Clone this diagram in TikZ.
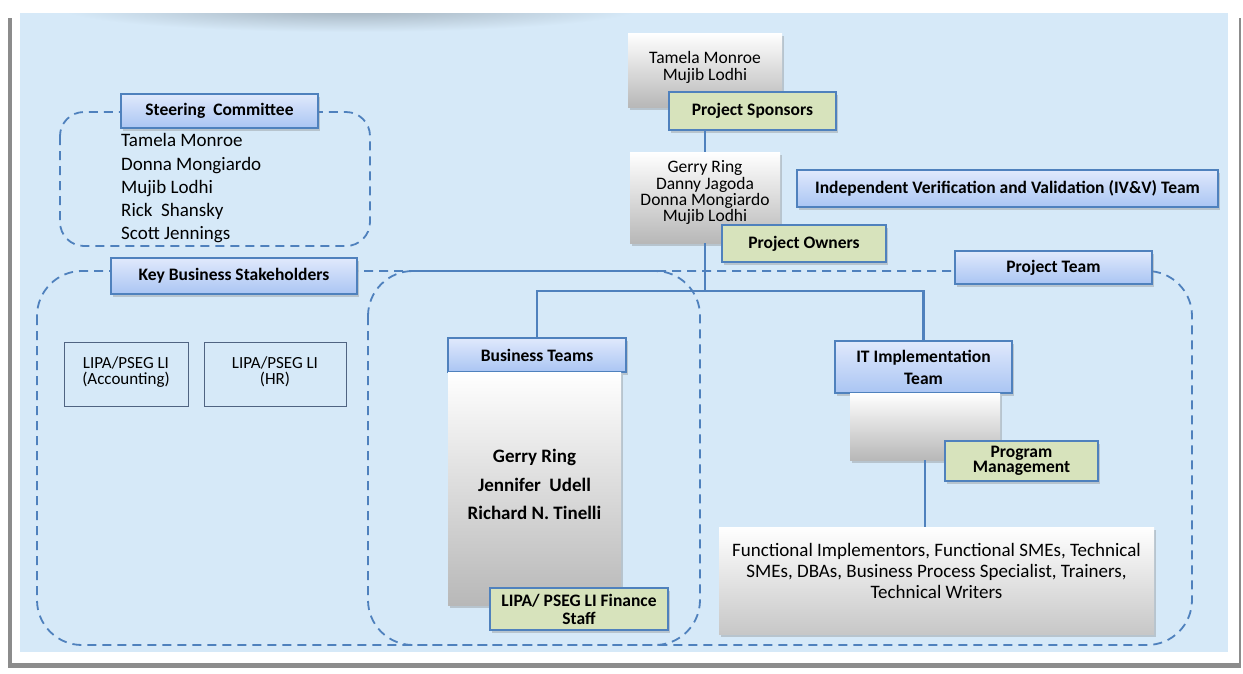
\documentclass[tikz,border=0pt]{standalone}
\usepackage{fontspec}
\setmainfont{Carlito}
\usetikzlibrary{shadows}
\definecolor{bgblue}{RGB}{214,233,248}
\definecolor{lineblue}{RGB}{79,129,189}
\definecolor{hdrtop}{RGB}{224,233,252}
\definecolor{hdrbot}{RGB}{170,197,243}
\definecolor{greenfill}{RGB}{215,227,188}
\definecolor{boxline}{RGB}{80,100,130}
\begin{document}
\begin{tikzpicture}[x=1pt,y=-1pt,
  shad/.style={drop shadow={shadow xshift=2pt,shadow yshift=-2.5pt,opacity=0.35}},
  hdr/.style={draw=lineblue, line width=1.2pt, top color=hdrtop, bottom color=hdrbot,
    inner sep=0pt, align=center, font=\fontsize{17.5}{21}\selectfont\bfseries, shad},
  grn/.style={draw=lineblue, line width=1.2pt, fill=greenfill, inner sep=0pt,
    align=center, font=\fontsize{17.5}{18}\selectfont\bfseries, shad},
  gbox/.style={top color=white, bottom color=black!28, inner sep=0pt, align=center, shad},
  plain/.style={draw=boxline, line width=0.8pt, inner sep=0pt, align=center,
    font=\fontsize{17}{16}\selectfont},
  dashbox/.style={draw=lineblue, line width=1.8pt, dash pattern=on 9pt off 6pt},
  conn/.style={draw=lineblue, line width=2.5pt}]
\useasboundingbox (0,0) rectangle (1243,673);
% page frame and background
\fill[black!45] (8,18) rectangle (1241,668);
\fill[white] (12,3) rectangle (1239,663);
\fill[bgblue] (20,13) rectangle (1228,652);
\begin{scope}
  \clip (20,13) rectangle (1228,652);
  \shade[inner color=black!25!bgblue, outer color=bgblue] (350,8) ellipse [x radius=290, y radius=24];
\end{scope}
% dashed groupings
\draw[dashbox, rounded corners=24pt] (60,112) rectangle (370,246);
\draw[dashbox, rounded corners=45pt] (37,271) rectangle (700,645);
\draw[dashbox, rounded corners=45pt] (368,271) rectangle (1192,645);
% steering committee
\node[hdr, minimum width=197pt, minimum height=34pt] (steer) at (219.5,111) {Steering\ \ Committee};
\node[anchor=north west, inner sep=0pt, align=left, font=\fontsize{19}{23.2}\selectfont] (steernames) at (121,133.5)
  {Tamela Monroe\\Donna Mongiardo\\Mujib Lodhi\\Rick\ \ Shansky\\Scott Jennings};
% key business stakeholders
\node[hdr, minimum width=246pt, minimum height=36pt] (kbs) at (234,276) {Key Business Stakeholders};
\node[plain, minimum width=124pt, minimum height=64pt] (acc) at (126,374) {LIPA/PSEG LI\\(Accounting)\\[-10pt]};
\node[plain, minimum width=142pt, minimum height=64pt] (hr) at (275,374) {LIPA/PSEG LI\\(HR)\\[-10pt]};
% sponsors / owners
\node[gbox, minimum width=154pt, minimum height=74pt, font=\fontsize{17.5}{17}\selectfont] (sp) at (705,70)
  {Tamela Monroe\\Mujib Lodhi\\[-9pt]};
\node[grn, minimum width=167pt, minimum height=38pt] (spons) at (752.5,111) {Project Sponsors};
\node[gbox, minimum width=150pt, minimum height=91pt, font=\fontsize{17.5}{16.3}\selectfont] (own) at (705,197.5)
  {Gerry Ring\\Danny Jagoda\\Donna Mongiardo\\Mujib Lodhi\\[-4pt]};
\node[grn, minimum width=164pt, minimum height=37pt] (owners) at (804,243.5) {Project Owners};
\node[hdr, minimum width=421pt, minimum height=37pt] (ivv) at (1007.5,188.5) {Independent Verification and Validation (IV\&V) Team};
\node[hdr, minimum width=197pt, minimum height=33pt] (pt) at (1053.5,267.5) {Project Team};
% business teams
\node[hdr, minimum width=178pt, minimum height=34pt] (bt) at (537,355) {Business Teams};
\node[gbox, minimum width=173pt, minimum height=233pt, font=\fontsize{19}{28.5}\selectfont\bfseries] (btnames) at (534.5,489)
  {Gerry Ring\\Jennifer\ \ Udell\\Richard N. Tinelli\\[-19.5pt]};
\node[grn, minimum width=178pt, minimum height=42pt, font=\fontsize{17.5}{18}\selectfont\bfseries] (lipa) at (579,609)
  {LIPA/ PSEG LI Finance\\Staff};
% IT implementation
\node[hdr, minimum width=177pt, minimum height=52pt, font=\fontsize{17.5}{22}\selectfont\bfseries] (it) at (923.5,367) {IT Implementation\\Team};
\node[gbox, minimum width=150pt, minimum height=67pt] (itg) at (925,426.5) {};
\node[grn, minimum width=153pt, minimum height=40pt, font=\fontsize{17.5}{18}\selectfont\bfseries] (pm) at (1021.5,461)
  {Program\\[-3pt]Management};
\node[gbox, bottom color=black!22, minimum width=435pt, minimum height=107pt, font=\fontsize{19}{21}\selectfont] (func) at (936.5,580.5)
  {Functional Implementors, Functional SMEs, Technical\\SMEs, DBAs, Business Process Specialist, Trainers,\\Technical Writers\\[-2pt]};
% connectors
\coordinate (j) at (705,291);
\draw[conn] (own.north |- spons.south) -- (own.north);
\draw[conn] (own.south) -- (j);
\draw[conn] (bt.north) -- (bt.north |- j) -- (it.north |- j) -- (it.north);
\draw[conn] (itg.south) -- (itg.south |- func.north);
\end{tikzpicture}
\end{document}
